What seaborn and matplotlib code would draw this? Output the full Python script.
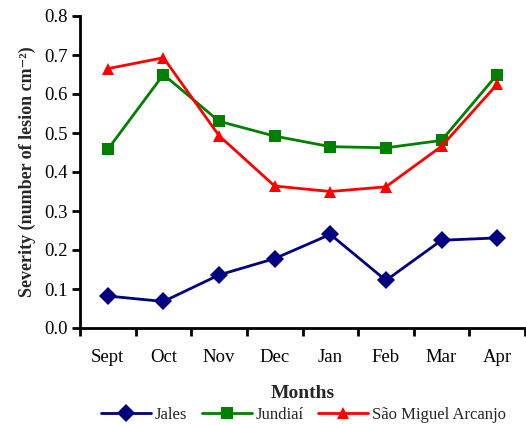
import matplotlib
matplotlib.use('Agg')
import pandas as pd
import numpy as np
import matplotlib.pyplot as plt
import seaborn as sns
from matplotlib.ticker import FixedLocator

meses = ['Sept', 'Oct', 'Nov', 'Dec', 'Jan', 'Feb', 'Mar', 'Apr']
jales = [0.082, 0.068, 0.136, 0.178, 0.240, 0.122, 0.225, 0.231]
jundiai = [0.458, 0.650, 0.530, 0.492, 0.465, 0.462, 0.481, 0.650]
sao_miguel = [0.665, 0.693, 0.493, 0.364, 0.350, 0.362, 0.466, 0.625]
locais = ['Jales', 'Jundiaí', 'São Miguel Arcanjo']

df = pd.DataFrame({
    'mes': list(range(len(meses))) * 3,
    'severidade': jales + jundiai + sao_miguel,
    'local': [locais[0]] * 8 + [locais[1]] * 8 + [locais[2]] * 8,
})

sns.set_theme(style="white")
plt.rcParams['font.family'] = ['Liberation Serif', 'DejaVu Serif']

fig = plt.figure(figsize=(5.26, 4.25), dpi=100)
ax = fig.add_axes([80 / 526, (425 - 328) / 425, 445 / 526, 312 / 425])

paleta = {'Jales': '#000080', 'Jundiaí': '#008000', 'São Miguel Arcanjo': '#FF0000'}
marcadores = {'Jales': 'D', 'Jundiaí': 's', 'São Miguel Arcanjo': '^'}
sns.lineplot(data=df, x='mes', y='severidade', hue='local', style='local',
             hue_order=locais, style_order=locais, palette=paleta,
             markers=marcadores, dashes=False, markersize=9, linewidth=2,
             markeredgewidth=0, ax=ax)

ax.set_xlim(-0.5, 7.5)
ax.set_ylim(0, 0.8)
ax.set_yticks(np.arange(0, 0.81, 0.1))
ax.set_yticklabels([f"{v:.1f}" for v in np.arange(0, 0.81, 0.1)])
ax.set_xticks(range(len(meses)))
ax.set_xticklabels(meses)
ax.xaxis.set_minor_locator(FixedLocator(np.arange(-0.5, 7.6, 1)))
ax.tick_params(axis='x', which='major', length=0, pad=15, labelsize=13.5, colors='black')
ax.tick_params(axis='x', which='minor', length=6, width=2, direction='out', bottom=True, color='black')
ax.tick_params(axis='y', length=6, width=2, direction='out', left=True, labelsize=13.5, colors='black', pad=3)

for lado in ['top', 'right']:
    ax.spines[lado].set_visible(False)
for lado in ['left', 'bottom']:
    ax.spines[lado].set_color('black')
    ax.spines[lado].set_linewidth(2)

ax.set_xlabel('Months', fontsize=14, fontweight='bold', labelpad=14)
ax.set_ylabel('Severity (number of lesion cm⁻²)', fontsize=13, fontweight='bold', labelpad=6)

handles, labels = ax.get_legend_handles_labels()
ax.legend_.remove()
fig.legend(handles, labels, loc='lower center', bbox_to_anchor=(0.577, -0.03), ncol=3,
           frameon=False, fontsize=12, handlelength=3, columnspacing=0.9, handletextpad=0.2)

plt.savefig('out.png', dpi=100)
plt.close()
